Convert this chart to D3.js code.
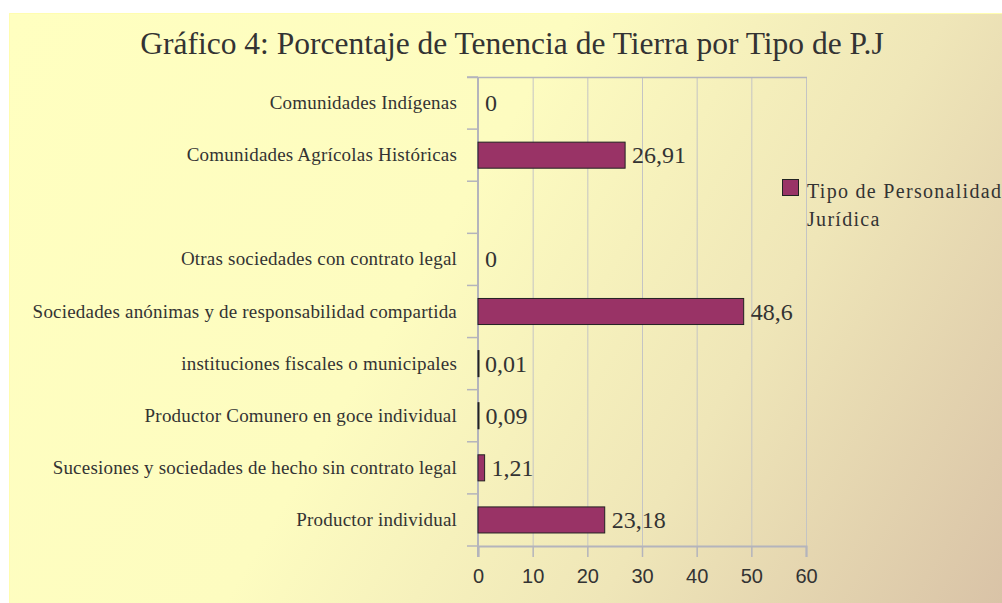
<!DOCTYPE html>
<html>
<head>
<meta charset="utf-8">
<script src="https://cdn.jsdelivr.net/npm/d3@7"></script>
<style>
  body { margin: 0; background: #fff; }
  svg { display: block; }
  .serif { font-family: "Liberation Serif", "Times New Roman", serif; fill: #333; }
  .xaxis text { font-family: "Liberation Sans", Arial, sans-serif; font-size: 20px; fill: #333; }
</style>
</head>
<body>
<div id="chart"></div>
<script>
// categories, top to bottom (the empty one is a blank row in the original)
var categorias = [
  'Comunidades Indígenas',
  'Comunidades Agrícolas Históricas',
  '',
  'Otras sociedades con contrato legal',
  'Sociedades anónimas y de responsabilidad compartida',
  'instituciones fiscales o municipales',
  'Productor Comunero en goce individual',
  'Sucesiones y sociedades de hecho sin contrato legal',
  'Productor individual'
];
var valores = [0, 26.91, null, 0, 48.6, 0.01, 0.09, 1.21, 23.18];
var xTicks = [0, 10, 20, 30, 40, 50, 60];
var titulo = 'Gráfico 4: Porcentaje de Tenencia de Tierra por Tipo de P.J';
var serie = ['Tipo de Personalidad', 'Jurídica'];

var width = 1002, height = 603;
var plot = {left: 478, right: 806, top: 77, bottom: 546};

var svg = d3.select('#chart').append('svg')
  .attr('width', width)
  .attr('height', height);

var defs = svg.append('defs');
var grad = defs.append('linearGradient')
  .attr('id', 'fondo')
  .attr('gradientUnits', 'userSpaceOnUse')
  .attr('x1', 10).attr('y1', 14)
  .attr('x2', 1002).attr('y2', 603);
grad.append('stop').attr('offset', '0').attr('stop-color', '#ffffc0');
grad.append('stop').attr('offset', '0.42').attr('stop-color', '#fdfcc0');
grad.append('stop').attr('offset', '0.7').attr('stop-color', '#efe6b8');
grad.append('stop').attr('offset', '1').attr('stop-color', '#d9c3a7');

// chart background
svg.append('rect')
  .attr('x', 9.5).attr('y', 13.5)
  .attr('width', 1000).attr('height', 600)
  .attr('fill', 'url(#fondo)')
  .attr('stroke', '#fffdb0')
  .attr('stroke-width', 1);

var x = d3.scaleLinear()
  .domain([0, 60])
  .range([plot.left, plot.right]);

var y = d3.scaleBand()
  .domain(d3.range(categorias.length))
  .range([plot.top, plot.bottom]);

// gridlines
svg.append('g').selectAll('line')
  .data(xTicks.slice(1))
  .enter().append('line')
  .attr('x1', function(d) { return x(d) + 0.5; })
  .attr('x2', function(d) { return x(d) + 0.5; })
  .attr('y1', plot.top)
  .attr('y2', plot.bottom)
  .attr('stroke', '#c4c4c4')
  .attr('stroke-width', 1);

// plot border top
svg.append('line')
  .attr('x1', plot.left - 11).attr('x2', plot.right + 1)
  .attr('y1', plot.top + 0.5).attr('y2', plot.top + 0.5)
  .attr('stroke', '#b4b4bc').attr('stroke-width', 1.5);

// x axis
var xAxis = svg.append('g')
  .attr('class', 'xaxis')
  .attr('transform', 'translate(0,' + plot.bottom + ')')
  .call(d3.axisBottom(x).tickValues(xTicks).tickSize(11).tickPadding(12).tickFormat(d3.format('d')));
xAxis.select('.domain').attr('stroke', '#b4b4bc').attr('stroke-width', 2);
xAxis.selectAll('.tick line').attr('stroke', '#b4b4bc').attr('stroke-width', 1.5);

// y axis line + ticks at row boundaries
svg.append('line')
  .attr('x1', plot.left).attr('x2', plot.left)
  .attr('y1', plot.top).attr('y2', plot.bottom + 11)
  .attr('stroke', '#b4b4bc').attr('stroke-width', 2);

svg.append('g').selectAll('line')
  .data(d3.range(categorias.length + 1))
  .enter().append('line')
  .attr('x1', plot.left - 11)
  .attr('x2', plot.left)
  .attr('y1', function(i) { return plot.top + i * y.step(); })
  .attr('y2', function(i) { return plot.top + i * y.step(); })
  .attr('stroke', '#b4b4bc')
  .attr('stroke-width', 1.5);

// category labels
svg.append('g').selectAll('text')
  .data(categorias)
  .enter().append('text')
  .attr('class', 'serif')
  .attr('x', plot.left - 21)
  .attr('y', function(d, i) { return y(i) + y.bandwidth() / 2 + 6; })
  .attr('text-anchor', 'end')
  .style('font-size', '19px')
  .style('letter-spacing', '0.2px')
  .text(function(d) { return d; });

var filas = valores.map(function(v, i) { return {i: i, v: v}; })
  .filter(function(d) { return d.v !== null; });

// bars
svg.append('g').selectAll('rect')
  .data(filas.filter(function(d) { return d.v > 0; }))
  .enter().append('rect')
  .attr('x', x(0))
  .attr('y', function(d) { return y(d.i) + y.bandwidth() / 4; })
  .attr('width', function(d) { return Math.max(1, x(d.v) - x(0)); })
  .attr('height', y.bandwidth() / 2)
  .attr('fill', '#993366')
  .attr('stroke', '#222')
  .attr('stroke-width', 1);

// value labels
svg.append('g').selectAll('text')
  .data(filas)
  .enter().append('text')
  .attr('class', 'serif')
  .attr('x', function(d) { return x(d.v) + 7; })
  .attr('y', function(d) { return y(d.i) + y.bandwidth() / 2 + 8; })
  .style('font-size', '24px')
  .text(function(d) { return String(d.v).replace('.', ','); });

// title
svg.append('text')
  .attr('class', 'serif')
  .attr('x', 512)
  .attr('y', 54)
  .attr('text-anchor', 'middle')
  .style('font-size', '31.5px')
  .text(titulo);

// legend
var leyenda = svg.append('g');
leyenda.append('rect')
  .attr('x', 782.5).attr('y', 179.5)
  .attr('width', 16).attr('height', 16)
  .attr('fill', '#993366')
  .attr('stroke', '#222');
leyenda.selectAll('text')
  .data(serie)
  .enter().append('text')
  .attr('class', 'serif')
  .attr('x', 807)
  .attr('y', function(d, i) { return 198 + i * 28; })
  .style('font-size', '20px')
  .style('letter-spacing', '1.3px')
  .text(function(d) { return d; });
</script>
</body>
</html>
